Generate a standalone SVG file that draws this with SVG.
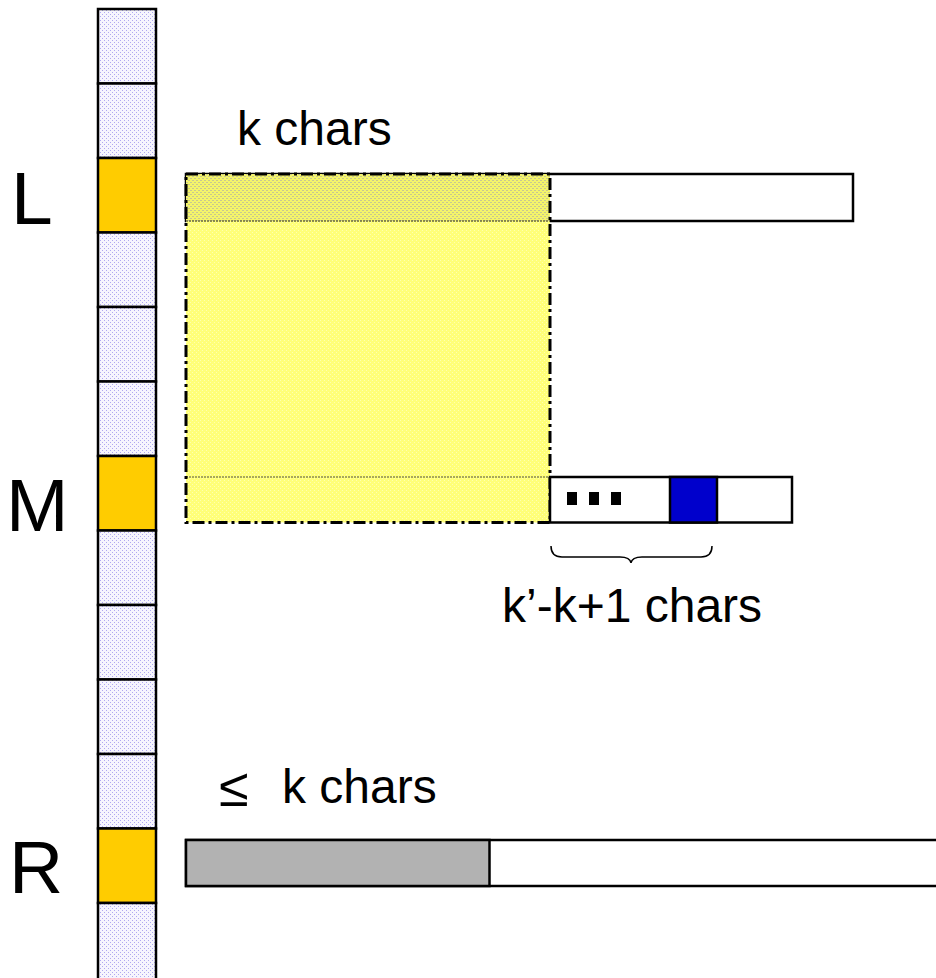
<svg xmlns="http://www.w3.org/2000/svg" width="936" height="978" viewBox="0 0 936 978">
<defs>
<pattern id="dots" width="4" height="4" patternUnits="userSpaceOnUse">
<rect width="4" height="4" fill="#f6f5fe"/>
<rect x="0" y="0" width="1" height="1" fill="#b0a8f0"/>
<rect x="2" y="2" width="1" height="1" fill="#b0a8f0"/>
</pattern>
<pattern id="yel" width="4" height="4" patternUnits="userSpaceOnUse">
<rect width="4" height="4" fill="#ffff78"/>
<rect x="0" y="0" width="1" height="1" fill="#ffffb0"/>
<rect x="2" y="2" width="1" height="1" fill="#ffffb0"/>
</pattern>
<pattern id="yeldark" width="4" height="4" patternUnits="userSpaceOnUse">
<rect width="4" height="4" fill="#f4f46a"/>
<rect x="0" y="0" width="2" height="1" fill="#c8c890"/>
<rect x="2" y="2" width="2" height="1" fill="#c8c890"/>
</pattern>
</defs>
<style>
.cell{fill:url(#dots);stroke:#000;stroke-width:2.5}
.hot{fill:#ffcc00;stroke:#000;stroke-width:2.5}
.box{fill:#fff;stroke:#000;stroke-width:2.5}
.lbl{font-family:"Liberation Sans",Arial,sans-serif;fill:#000}
.big{font-size:75px}
.mid{font-size:48px}
</style>
<g id="column">
<rect class="cell" x="98" y="9" width="58" height="74.5"/>
<rect class="cell" x="98" y="83.5" width="58" height="74.5"/>
<rect class="hot" x="98" y="158" width="58" height="74.5"/>
<rect class="cell" x="98" y="232.5" width="58" height="74.5"/>
<rect class="cell" x="98" y="307" width="58" height="74.5"/>
<rect class="cell" x="98" y="381.5" width="58" height="74.5"/>
<rect class="hot" x="98" y="456" width="58" height="74.5"/>
<rect class="cell" x="98" y="530.5" width="58" height="74.5"/>
<rect class="cell" x="98" y="605" width="58" height="74.5"/>
<rect class="cell" x="98" y="679.5" width="58" height="74.5"/>
<rect class="cell" x="98" y="754" width="58" height="74.5"/>
<rect class="hot" x="98" y="828.5" width="58" height="74.5"/>
<rect class="cell" x="98" y="903" width="58" height="80"/>
</g>
<g id="labelL"><text class="lbl big" x="11" y="224">L</text></g>
<g id="labelM"><text class="lbl big" x="6" y="531">M</text></g>
<g id="labelR"><text class="lbl big" x="9" y="893">R</text></g>
<g id="rowL">
<rect class="box" x="186" y="174" width="667" height="47"/>
</g>
<g id="window">
<rect x="186" y="174" width="364" height="348.5" fill="url(#yel)"/>
<rect x="186" y="174" width="364" height="47" fill="url(#yeldark)"/>
<line x1="186" y1="221" x2="550" y2="221" stroke="#6a6a40" stroke-width="1.5" stroke-dasharray="2 1"/>
<line x1="186" y1="477" x2="550" y2="477" stroke="#8a8a50" stroke-width="1.5" stroke-dasharray="2 1"/>
<rect x="186" y="174" width="364" height="348.5" fill="none" stroke="#000" stroke-width="3" stroke-dasharray="12 4 3 4"/>
</g>
<g id="rowM">
<rect class="box" x="550" y="477" width="242" height="45.5"/>
<rect x="670" y="477" width="47" height="45.5" fill="#0000cc" stroke="#000" stroke-width="2.5"/>
<rect x="567" y="492" width="10" height="13" fill="#000"/>
<rect x="589" y="492" width="10" height="13" fill="#000"/>
<rect x="611" y="492" width="10" height="13" fill="#000"/>
</g>
<g id="rowR">
<rect x="186" y="840" width="760" height="46" fill="#fff" stroke="#000" stroke-width="2.5"/>
<rect x="186" y="840" width="303.5" height="46" fill="#b2b2b2" stroke="#000" stroke-width="2.5"/>
</g>
<g id="connectors">
<path d="M551,546 Q551,557 562,557 L620,557 Q630,557 631,563 Q632,557 642,557 L701,557 Q712,557 712,546" fill="none" stroke="#000" stroke-width="1.5"/>
</g>
<g id="texts">
<text class="lbl mid" x="237" y="145">k chars</text>
<text class="lbl mid" x="502" y="622">k’-k+1 chars</text>
<text class="lbl" font-size="54" x="219" y="806">≤</text>
<text class="lbl mid" x="282" y="803">k chars</text>
</g>
</svg>
